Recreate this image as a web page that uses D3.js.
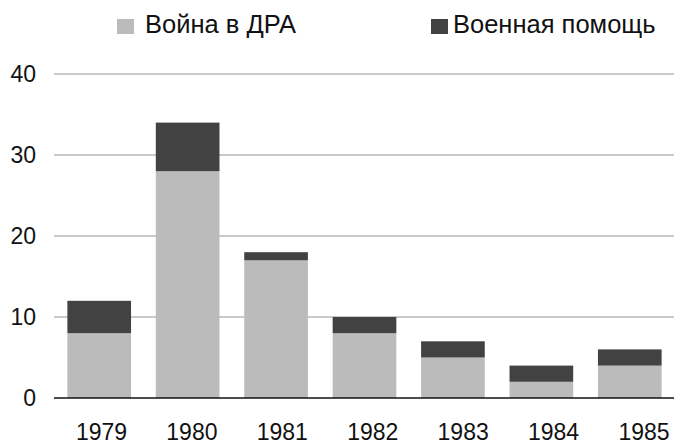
<!DOCTYPE html>
<html>
<head>
<meta charset="utf-8">
<script src="https://cdn.jsdelivr.net/npm/d3@7"></script>
<style>
  body { margin: 0; background: #fff; }
  svg text { font-family: "Liberation Sans", Arial, sans-serif; fill: #111; }
</style>
</head>
<body>
<div id="chart"></div>
<script>
// data
var years = ["1979", "1980", "1981", "1982", "1983", "1984", "1985"];
var war = [8, 28, 17, 8, 5, 2, 4];        // Война в ДРА
var aid = [4, 6, 1, 2, 2, 2, 2];          // Военная помощь
var yTicks = [0, 10, 20, 30, 40];
var seriesNames = ["Война в ДРА", "Военная помощь"];
var colors = ["#bbbbbb", "#424242"];

var width = 674, height = 444;

var svg = d3.select("#chart").append("svg")
  .attr("width", width)
  .attr("height", height);

var x = d3.scaleBand().domain(years).range([55, 674])
  .paddingInner(0.28).paddingOuter(0.14);
// tick labels sit on a slightly wider spacing than the bars
var xLab = d3.scalePoint().domain(years).range([101.5, 644]);
var y = d3.scaleLinear().domain([0, 40]).range([398, 74]);

// gridlines
svg.append("g").selectAll("line")
  .data(yTicks.filter(d => d > 0))
  .enter().append("line")
  .attr("x1", 54).attr("x2", 674)
  .attr("y1", d => y(d)).attr("y2", d => y(d))
  .attr("stroke", "#b8b8b8")
  .attr("stroke-width", 1.5);

// stacked bars
var rows = years.map((yr, i) => ({year: yr, war: war[i], aid: aid[i]}));
var stack = d3.stack().keys(["war", "aid"])(rows);

svg.append("g").selectAll("g")
  .data(stack)
  .enter().append("g")
  .attr("fill", (d, i) => colors[i])
  .selectAll("rect")
  .data(d => d)
  .enter().append("rect")
  .attr("x", d => x(d.data.year))
  .attr("width", x.bandwidth())
  .attr("y", d => y(d[1]))
  .attr("height", d => y(d[0]) - y(d[1]));

// baseline
svg.append("line")
  .attr("x1", 54).attr("x2", 674)
  .attr("y1", y(0)).attr("y2", y(0))
  .attr("stroke", "#111")
  .attr("stroke-width", 1.5);

// y labels
svg.append("g").selectAll("text")
  .data(yTicks)
  .enter().append("text")
  .attr("x", 36)
  .attr("y", d => y(d))
  .attr("dy", "0.36em")
  .attr("text-anchor", "end")
  .style("font-size", "23px")
  .text(d => d);

// x labels
svg.append("g").selectAll("text")
  .data(years)
  .enter().append("text")
  .attr("x", d => xLab(d))
  .attr("y", 440)
  .attr("text-anchor", "middle")
  .style("font-size", "23px")
  .text(d => d);

// legend
var legendX = [117, 431];
var legend = svg.append("g").selectAll("g")
  .data(seriesNames)
  .enter().append("g")
  .attr("transform", (d, i) => "translate(" + legendX[i] + ",19)");

legend.append("rect")
  .attr("width", 17).attr("height", 15)
  .attr("fill", (d, i) => colors[i]);

legend.append("text")
  .attr("x", (d, i) => i === 0 ? 28 : 22)
  .attr("y", 14)
  .style("font-size", "25.5px")
  .text(d => d);
</script>
</body>
</html>
